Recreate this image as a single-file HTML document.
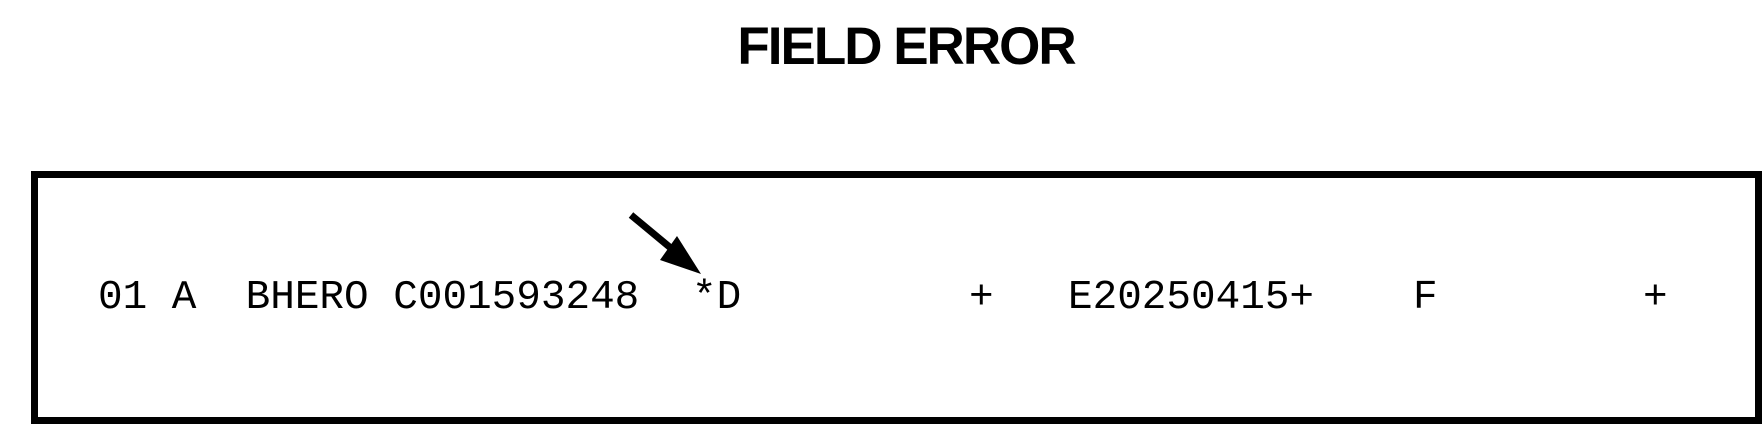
<!DOCTYPE html>
<html><head><style>
body{margin:0;width:1764px;height:422px;background:#fff;position:relative;overflow:hidden}
.t{position:absolute;left:0;width:1812px;top:16px;text-align:center;font:bold 53px "Liberation Sans",sans-serif;letter-spacing:-2px}
.box{position:absolute;left:31px;top:171px;width:1717px;height:239px;border:7px solid #000}
.m{position:absolute;top:273px;font:41px "Liberation Mono",monospace;white-space:pre;line-height:50px}
</style></head><body>
<div class="t">FIELD ERROR</div>
<div class="box"></div>
<div class="m" style="left:98px">01 A  BHERO C001593248</div>
<div class="m" style="left:692px">*D</div>
<div class="m" style="left:969px">+</div>
<div class="m" style="left:1068px">E20250415+</div>
<div class="m" style="left:1413px">F</div>
<div class="m" style="left:1643px">+</div>
<svg width="1764" height="422" style="position:absolute;left:0;top:0">
<line x1="631" y1="215" x2="684" y2="259" stroke="#000" stroke-width="7"/>
<polygon points="701,274 677,236 660,260" fill="#000"/>
</svg>
</body></html>
